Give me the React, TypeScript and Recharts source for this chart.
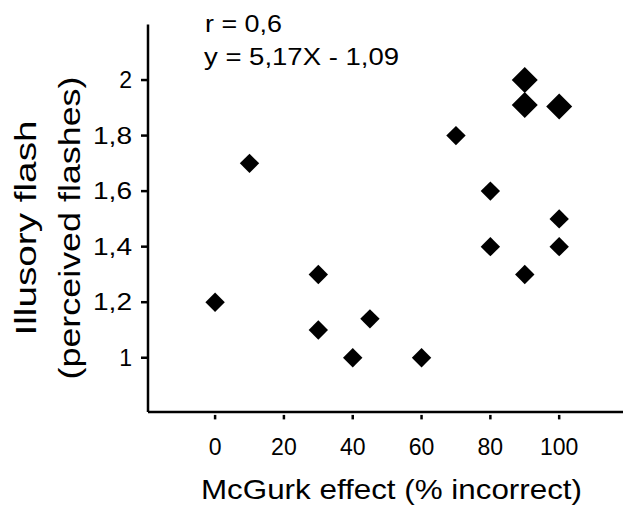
import { Customized, Scatter, ScatterChart, XAxis, YAxis } from 'recharts';

// McGurk effect (% incorrect) vs illusory flashes
const mcgurk = [0, 10, 30, 30, 40, 45, 60, 70, 80, 80, 90, 100, 100];
const flashes = [1.2, 1.7, 1.3, 1.1, 1.0, 1.14, 1.0, 1.8, 1.6, 1.4, 1.3, 1.5, 1.4];
// overlapping subjects, drawn with bigger markers
const mcgurkBig = [90, 90, 100];
const flashesBig = [2.0, 1.91, 1.905];

const xTicks = [0, 20, 40, 60, 80, 100];
const yTicks = [1, 1.2, 1.4, 1.6, 1.8, 2];
const statLines = ['r = 0,6', 'y = 5,17X - 1,09'];

const small = mcgurk.map((x, i) => ({ x, y: flashes[i] }));
const big = mcgurkBig.map((x, i) => ({ x, y: flashesBig[i] }));

const FONT = '"Liberation Sans", Arial, Helvetica, sans-serif';
const comma = (v: number) => String(v).replace('.', ',');

const diamond = (r: number) => (props: any) => {
  const { cx, cy } = props;
  return (
    <polygon
      points={`${cx},${cy - r} ${cx + r},${cy} ${cx},${cy + r} ${cx - r},${cy}`}
      fill="#000"
    />
  );
};

const XTick = (props: any) => {
  const { x, y, payload } = props;
  return (
    <g>
      <line x1={x} x2={x} y1={y + 3} y2={y + 7.5} stroke="#000" strokeWidth={2.5} />
      <text x={x} y={y + 43} textAnchor="middle" fontSize={23} fontFamily={FONT} fill="#000">
        {payload.value}
      </text>
    </g>
  );
};

const YTick = (props: any) => {
  const { x, y, payload } = props;
  const label = comma(payload.value);
  const wide = label.includes(',');
  return (
    <g>
      <line x1={x - 7} x2={x} y1={y} y2={y} stroke="#000" strokeWidth={2.5} />
      <text
        x={x - 16}
        y={y + 8}
        textAnchor="end"
        fontSize={23}
        fontFamily={FONT}
        fill="#000"
        textLength={wide ? 39 : undefined}
        lengthAdjust={wide ? 'spacingAndGlyphs' : undefined}
      >
        {label}
      </text>
    </g>
  );
};

const Annotations = () => (
  <g fontFamily={FONT} fill="#000">
    <text x={205} y={31.5} fontSize={23} textLength={77} lengthAdjust="spacingAndGlyphs">
      {statLines[0]}
    </text>
    <text x={204} y={65} fontSize={24} textLength={195} lengthAdjust="spacingAndGlyphs">
      {statLines[1]}
    </text>
    <text x={391.5} y={499} fontSize={28} textAnchor="middle" textLength={381} lengthAdjust="spacingAndGlyphs">
      McGurk effect (% incorrect)
    </text>
    <text
      x={36}
      y={228}
      fontSize={30}
      textAnchor="middle"
      transform="rotate(-90, 36, 228)"
      textLength={215}
      lengthAdjust="spacingAndGlyphs"
    >
      Illusory flash
    </text>
    <text
      x={80}
      y={228}
      fontSize={30}
      textAnchor="middle"
      transform="rotate(-90, 80, 228)"
      textLength={303}
      lengthAdjust="spacingAndGlyphs"
    >
      (perceived flashes)
    </text>
  </g>
);

export default function App() {
  return (
    <div
      style={{
        position: 'absolute',
        left: 0,
        top: 0,
        width: 623,
        height: 506,
        overflow: 'hidden',
        background: '#fff',
      }}
    >
      <ScatterChart width={628} height={506} margin={{ top: 24.5, right: 0, bottom: 0, left: 0 }}>
        <XAxis
          type="number"
          dataKey="x"
          domain={[-19.5, 120]}
          ticks={xTicks}
          height={94.1}
          tickSize={0}
          tickMargin={0}
          tickLine={false}
          tick={<XTick />}
          axisLine={{ stroke: '#000', strokeWidth: 2.5 }}
          allowDataOverflow
        />
        <YAxis
          type="number"
          dataKey="y"
          domain={[0.805, 2.2]}
          ticks={yTicks}
          width={148}
          tickSize={0}
          tickMargin={0}
          tickLine={false}
          tick={<YTick />}
          axisLine={{ stroke: '#000', strokeWidth: 2.5 }}
          allowDataOverflow
        />
        <Scatter data={small} shape={diamond(9.7)} isAnimationActive={false} />
        <Scatter data={big} shape={diamond(13)} isAnimationActive={false} />
        <Customized component={<Annotations />} />
      </ScatterChart>
    </div>
  );
}
